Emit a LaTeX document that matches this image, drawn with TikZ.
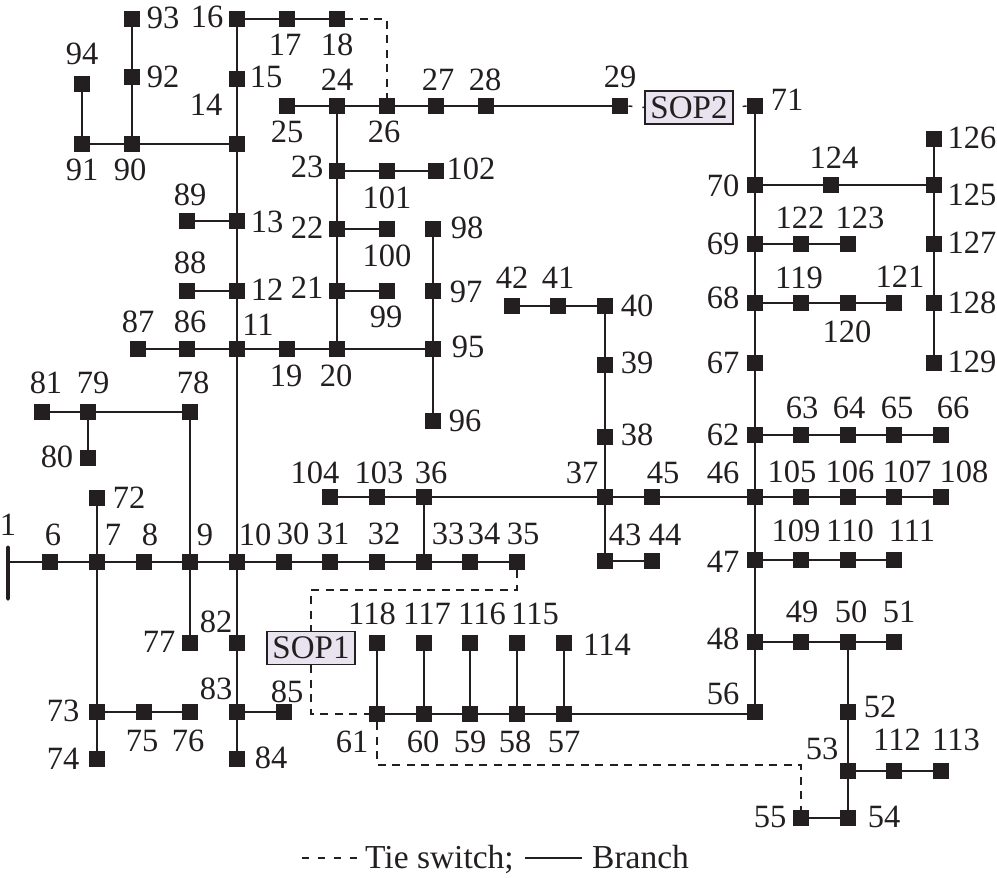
\documentclass[tikz,border=0pt]{standalone}
\usepackage{fontspec}
\setmainfont{Liberation Serif}
\definecolor{ink}{HTML}{231F20}
\definecolor{sopfill}{HTML}{E9E3EF}
\tikzset{
  bus/.style={rectangle,fill=ink,draw=none,minimum size=16.5pt,inner sep=0pt},
  lab/.style={inner sep=0pt,text=ink,font=\fontsize{32.5}{32.5}\selectfont},
  leg/.style={inner sep=0pt,text=ink,font=\fontsize{33.5}{33.5}\selectfont},
  sopbox/.style={rectangle,draw=ink,line width=1.4pt,fill=sopfill,text=ink,minimum width=88pt,minimum height=33pt,inner sep=0pt,font=\fontsize{33}{33}\selectfont},
  branch/.style={draw=ink,line width=1.9pt},
  tie/.style={draw=ink,line width=1.5pt,dash pattern=on 8pt off 6.5pt}
}
\begin{document}
\begin{tikzpicture}[x=1pt,y=-1pt]
\useasboundingbox (0,0) rectangle (997,878);
\node[rectangle,fill=ink,rounded corners=1.5pt,minimum width=3.6pt,minimum height=55pt,inner sep=0pt] (n1) at (8,573) {};
\node[lab] (t1) at (8,525) {1};
\foreach \n/\x/\y/\lx/\ly in {
6/50/562/53/535,7/97/562/113/535,8/144/562/150/535,9/190/562/205/535,10/237/562/255/535,
30/284/562/293/534,31/330/562/333/534,32/377/562/384/534,33/424/562/448/534,34/470/562/484/534,35/517/562/523/534,
72/97/498/129/498,73/97/712/63/711,74/97/759/63/759,75/144/712/142/741,76/190/712/188/741,
77/190/643/159/642,78/190/412/193/383,79/88/412/93/383,81/42/412/46/383,80/88/458/57/457,
82/237/643/216/622,83/237/712/216/689,84/237/759/271/758,85/284/712/287/692,
11/237/349/258/325,12/237/291/267/290,13/237/221/267/222,14/237/144/206/105,15/237/79/266/77,
16/237/19/207/17,17/287/19/285/45,18/337/19/337/45,
88/187/291/190/263,89/187/221/190/195,90/132/144/130/170,91/82/144/82/170,94/82/84/82/54,92/132/77/163/77,93/132/19/163/18,
86/187/349/190/322,87/138/349/138/322,19/287/349/286/376,20/337/349/336/376,
95/433/349/468/347,96/433/421/465/421,97/433/291/466/292,98/433/229/467/228,
21/337/291/307/288,99/387/291/386/317,22/337/229/307/228,100/387/229/387/256,23/337/171/307/167,
101/387/171/387/198,102/436/171/471/169,24/337/106/337/80,25/287/106/287/132,26/387/106/384/132,
27/436/106/438/80,28/486/106/485/80,29/620/106/620/77,
71/755/106/787/100,70/755/185/723/186,69/755/244/723/244,68/755/303/723/298,67/755/363/723/363,
62/755/435/723/435,46/755/497/723/473,47/755/560/723/562,48/755/642/723/639,56/755/712/723/694,
124/831/185/834/158,125/934/185/972/195,126/934/139/972/138,127/934/244/972/243,128/934/303/972/303,129/934/363/972/362,
122/801/244/800/218,123/848/244/860/218,119/801/303/799/278,120/848/303/847/332,121/894/303/900/277,
63/801/435/802/408,64/848/435/849/408,65/894/435/897/408,66/941/435/953/408,
105/801/497/792/472,106/848/497/850/472,107/894/497/907/472,108/941/497/964/472,
109/801/560/796/531,110/848/560/850/531,111/894/560/912/531,
49/801/642/802/612,50/848/642/851/612,51/894/642/899/612,52/848/712/880/707,53/848/771/822/749,
54/848/818/884/817,55/801/818/770/817,112/894/771/897/740,113/941/771/956/740,
36/424/497/431/473,103/377/497/379/473,104/330/497/315/473,37/605/497/582/473,45/652/497/663/473,
38/605/437/637/435,39/605/365/637/363,40/605/306/637/306,41/558/306/558/278,42/512/306/512/278,
43/605/561/625/535,44/652/561/665/535,
61/377/714/352/742,60/424/714/423/742,59/470/714/470/742,58/517/714/515/742,57/564/714/564/742,
118/377/643/372/614,117/424/643/427/614,116/470/643/482/614,115/517/643/535/614,114/564/643/607/645}
{\node[bus] (n\n) at (\x,\y) {}; \node[lab] (t\n) at (\lx,\ly) {\n};}
\node[sopbox] (sop1) at (311,648) {SOP1};
\node[sopbox] (sop2) at (689,107.5) {SOP2};
\coordinate (c1) at (311,590);
\coordinate (c2) at (311,714);
\coordinate (c3) at (801,765);
\coordinate (la) at (302,858);
\coordinate (lb) at (358,858);
\coordinate (lc) at (525,858);
\coordinate (ld) at (582,858);
% branches
\path[branch] (n6 -| n1) -- (n6) -- (n7) -- (n8) -- (n9) -- (n10) -- (n30) -- (n31) -- (n32) -- (n33) -- (n34) -- (n35);
\path[branch] (n57) -- (n57 -| n56);
\foreach \a/\b in {7/72,7/73,73/74,73/75,75/76,9/78,9/77,78/79,79/81,79/80,10/82,82/83,83/84,83/85,
10/11,11/12,12/13,13/14,14/15,15/16,16/17,17/18,12/88,13/89,14/90,90/91,91/94,90/92,92/93,
87/86,86/11,11/19,19/20,20/95,95/96,95/97,97/98,20/21,21/22,22/23,23/24,21/99,22/100,23/101,101/102,
25/24,24/26,26/27,27/28,28/29,71/70,70/69,69/68,68/67,67/62,62/46,46/47,47/48,48/56,
70/124,124/125,125/126,125/127,127/128,128/129,69/122,122/123,68/119,119/120,120/121,
62/63,63/64,64/65,65/66,46/105,105/106,106/107,107/108,47/109,109/110,110/111,48/49,49/50,50/51,
50/52,52/53,53/54,54/55,53/112,112/113,46/45,45/37,37/36,36/103,103/104,36/33,37/38,38/39,39/40,40/41,41/42,
37/43,43/44,57/58,58/59,59/60,60/61,61/118,60/117,59/116,58/115,57/114}
{\path[branch] (n\a) -- (n\b);}
% tie switches
\path[tie] (n35.south) |- (c1) -- (sop1.north);
\path[tie] (sop1.south) -- (c2) -- (n61.west);
\path[tie] (n61.south) |- (c3) -- (n55.north);
\path[tie] (n18.east) -| (n26.north);
\path[draw=ink,line width=1.5pt,dash pattern=on 4pt off 10pt on 8pt] (n29.east) -- (sop2.west);
\path[draw=ink,line width=1.5pt,dash pattern=on 0pt off 9pt on 8pt] (sop2.east) -- (n71.west);
% legend
\path[tie,dash pattern=on 7pt off 9pt] (la) -- (lb);
\path[draw=ink,line width=1.6pt] (lc) -- (ld);
\node[leg,anchor=base west] (leg1) at (365,868) {Tie switch;};
\node[leg,anchor=base west] (leg2) at (592,868) {Branch};
\end{tikzpicture}
\end{document}
